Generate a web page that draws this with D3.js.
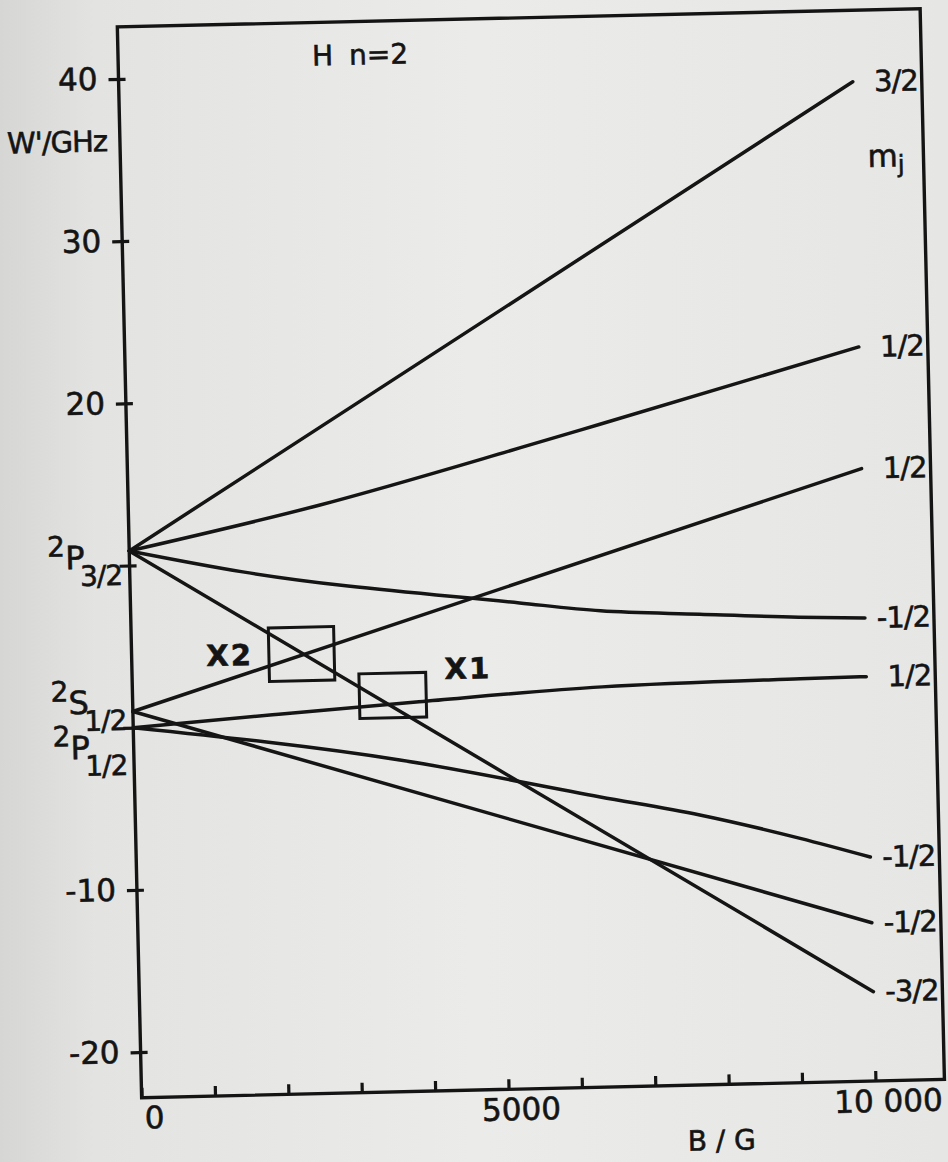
<!DOCTYPE html>
<html>
<head>
<meta charset="utf-8">
<script src="https://cdn.jsdelivr.net/npm/d3@7/dist/d3.min.js"></script>
<style>
  html, body { margin: 0; padding: 0; background: #e6e6e4; }
  svg { display: block; }
  text { font-family: "DejaVu Sans", sans-serif; fill: #141414; stroke: #141414; stroke-width: 0.6px; }
</style>
</head>
<body>
<div id="chart"></div>
<script>
// H n=2 levels in a magnetic field
// B in gauss, W' in GHz
var p32_mj32  = [[0, 10.9], [10000, 38.8]];
var p32_mj12  = [[0, 10.9], [2600, 13.45], [5350, 16.7], [6450, 18.05], [10000, 22.45]];
var p32_mjm12 = [[0, 10.9], [1540, 9.45], [5300, 7.15], [6400, 6.55], [7750, 6.2], [9100, 5.88], [10000, 5.74]];
var p32_mjm32 = [[0, 10.9], [10000, -17.3]];
var s12_mj12  = [[0, 1.0], [10000, 14.95]];
var s12_mjm12 = [[0, 1.0], [10000, -13.05]];
var p12_mj12  = [[0, 0], [1900, 0.6], [3900, 1.2], [6400, 1.86], [9100, 2.08], [10000, 2.12]];
var p12_mjm12 = [[0, 0], [3620, -2.36], [6340, -4.92], [7690, -6.17], [9050, -7.75], [10000, -9.0]];

// m_j label at the right end of each curve
var mjLabels = ["3/2", "1/2", "-1/2", "-3/2", "1/2", "-1/2", "1/2", "-1/2"];
var allCurves = [p32_mj32, p32_mj12, p32_mjm12, p32_mjm32, s12_mj12, s12_mjm12, p12_mj12, p12_mjm12];

// the two boxed crossings: name, B from, B to, W from, W to
var boxes = [["X2", 1870, 2760, 2.66, 5.96], ["X1", 3090, 4000, 0.25, 3.0]];

var xTicks = [0, 1000, 2000, 3000, 4000, 5000, 6000, 7000, 8000, 9000, 10000];
var xTickLabels = {0: "0", 5000: "5000", 10000: "10 000"};
var yTicks = [-20, -10, 0, 10, 20, 30, 40];
var yTickLabels = {"-20": "-20", "-10": "-10", 20: "20", 30: "30", 40: "40"};

var width = 948, height = 1162;
var frame = {left: 130, right: 933, top: 19, bottom: 1090};

var svg = d3.select("#chart")
      .append("svg")
      .attr("width", width)
      .attr("height", height);

// paper background, a bit darker at the left edge
var grad = svg.append("defs").append("linearGradient")
      .attr("id", "paper").attr("x1", 0).attr("x2", 1).attr("y1", 0).attr("y2", 0);
grad.append("stop").attr("offset", "0%").attr("stop-color", "#d6d6d4");
grad.append("stop").attr("offset", "10%").attr("stop-color", "#e3e3e1");
grad.append("stop").attr("offset", "50%").attr("stop-color", "#ebebe9");
grad.append("stop").attr("offset", "100%").attr("stop-color", "#e6e6e4");
svg.append("rect").attr("width", width).attr("height", height).attr("fill", "url(#paper)");

// the scanned page is turned a little
var g = svg.append("g").attr("transform", "rotate(-1.3,474,581)");

var x = d3.scaleLinear().domain([0, 10000]).range([frame.left, 864]);
var y = d3.scaleLinear().domain([-20, 40]).range([1044.4, 71]);

// frame
g.append("path")
      .attr("d", "M" + frame.left + "," + frame.bottom + "H" + frame.right + "V" + frame.top + "H" + frame.left + "Z")
      .attr("fill", "none")
      .attr("stroke", "#141414")
      .attr("stroke-width", 3.4);

// Y axis
var yAxis = g.append("g")
      .attr("transform", "translate(" + frame.left + ",0)")
      .call(d3.axisLeft(y).tickValues(yTicks).tickSize(10).tickSizeOuter(0)
            .tickFormat(function (d) { return yTickLabels[d] || ""; }));
yAxis.select(".domain").remove();
yAxis.selectAll(".tick line").attr("x1", 7).attr("stroke", "#141414").attr("stroke-width", 3.2);
yAxis.selectAll(".tick text")
      .attr("x", -21)
      .attr("fill", "#141414")
      .style("font-family", "DejaVu Sans, sans-serif")
      .style("font-size", "31px");

// X axis, ticks pointing up into the plot
var xAxis = g.append("g")
      .attr("transform", "translate(0," + frame.bottom + ")")
      .call(d3.axisBottom(x).tickValues(xTicks).tickSizeInner(-10).tickSizeOuter(0)
            .tickFormat(function (d) { return xTickLabels[d] || ""; }));
xAxis.select(".domain").remove();
xAxis.selectAll(".tick line").attr("stroke", "#141414").attr("stroke-width", 3.2);
xAxis.selectAll(".tick text")
      .attr("x", 12)
      .attr("y", 9)
      .attr("fill", "#141414")
      .style("font-family", "DejaVu Sans, sans-serif")
      .style("font-size", "31px");

// level curves
var line = d3.line()
      .x(function (d) { return x(d[0]); })
      .y(function (d) { return y(d[1]); })
      .curve(d3.curveMonotoneX);

g.append("g").selectAll("path")
      .data(allCurves)
      .enter()
      .append("path")
      .attr("d", line)
      .attr("fill", "none")
      .attr("stroke", "#151515")
      .attr("stroke-width", 3.5)
      .attr("stroke-linecap", "round");

// m_j labels
g.append("g").selectAll("text")
      .data(allCurves)
      .enter()
      .append("text")
      .attr("x", 929)
      .attr("y", function (d) { return y(d[d.length - 1][1]); })
      .attr("text-anchor", "end")
      .attr("dominant-baseline", "central")
      .style("font-size", "29px")
      .style("letter-spacing", "-1px")
      .text(function (d, i) { return mjLabels[i]; });

// boxes round the crossings
g.append("g").selectAll("rect")
      .data(boxes)
      .enter()
      .append("rect")
      .attr("x", function (d) { return x(d[1]); })
      .attr("y", function (d) { return y(d[4]); })
      .attr("width", function (d) { return x(d[2]) - x(d[1]); })
      .attr("height", function (d) { return y(d[3]) - y(d[4]); })
      .attr("fill", "none")
      .attr("stroke", "#141414")
      .attr("stroke-width", 3);

g.append("text")
      .attr("x", x(boxes[0][1]) - 16)
      .attr("y", (y(boxes[0][3]) + y(boxes[0][4])) / 2)
      .attr("text-anchor", "end")
      .attr("dominant-baseline", "central")
      .style("font-size", "29px")
      .style("font-weight", "bold")
      .style("letter-spacing", "2px")
      .text(boxes[0][0]);
g.append("text")
      .attr("x", x(boxes[1][2]) + 19)
      .attr("y", y(boxes[1][4]) - 3)
      .attr("dominant-baseline", "central")
      .style("font-size", "29px")
      .style("font-weight", "bold")
      .style("letter-spacing", "2px")
      .text(boxes[1][0]);

// term symbols at B = 0
function term(xx, yy, letter, sub) {
      var t = g.append("text").attr("x", xx).attr("y", yy);
      t.append("tspan").style("font-size", "28px").text("2");
      t.append("tspan").attr("dy", 13).style("font-size", "32px").text(letter);
      t.append("tspan").attr("dy", 17).attr("dx", -5).style("font-size", "28px")
            .style("letter-spacing", "-1px").text(sub);
}
term(48, 547, "P", "3/2");
term(48, 692, "S", "1/2");
term(49, 737, "P", "1/2");

// titles
var title = g.append("text").attr("x", 324).attr("y", 62).style("font-size", "28px");
title.append("tspan").text("H");
title.append("tspan").attr("dx", 16).text("n=2");

var mj = g.append("text").attr("x", 877).attr("y", 176).style("font-size", "31px");
mj.append("tspan").text("m");
mj.append("tspan").attr("dy", 6).style("font-size", "24px").text("j");

g.append("text")
      .attr("x", 117)
      .attr("y", 143)
      .attr("text-anchor", "end")
      .style("font-size", "29px")
      .style("letter-spacing", "-1px")
      .text("W'/GHz");

g.append("text")
      .attr("x", 709)
      .attr("y", 1146)
      .attr("text-anchor", "middle")
      .attr("dominant-baseline", "central")
      .style("font-size", "28px")
      .text("B / G");
</script>
</body>
</html>
